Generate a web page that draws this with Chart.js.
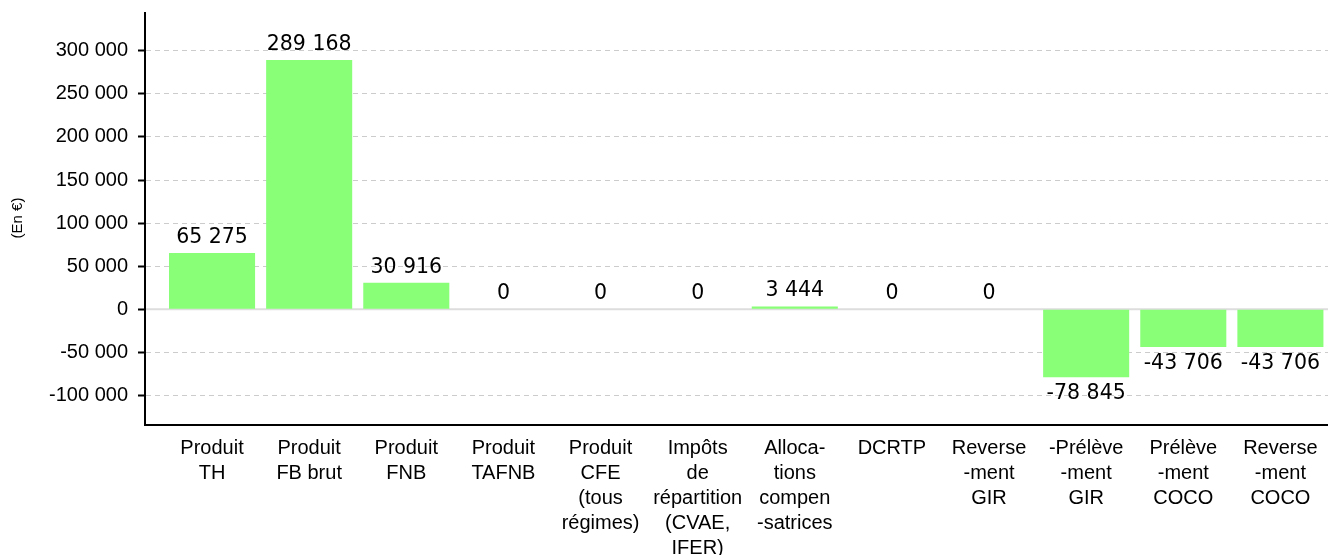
<!DOCTYPE html>
<html>
<head>
<meta charset="utf-8">
<script src="https://cdn.jsdelivr.net/npm/chart.js@4.4.1/dist/chart.umd.min.js"></script>
<style>
  html, body { margin: 0; padding: 0; background: #fff; overflow: hidden; }
  #wrap { width: 1328px; height: 555px; position: relative; }
</style>
</head>
<body>
<div id="wrap"><canvas id="chart"></canvas></div>
<script>
/* ── Données ─────────────────────────────────────────── */
const categories = [
  ['Produit', 'TH'],
  ['Produit', 'FB brut'],
  ['Produit', 'FNB'],
  ['Produit', 'TAFNB'],
  ['Produit', 'CFE', '(tous', 'régimes)'],
  ['Impôts', 'de', 'répartition', '(CVAE,', 'IFER)'],
  ['Alloca-', 'tions', 'compen', '-satrices'],
  ['DCRTP'],
  ['Reverse', '-ment', 'GIR'],
  ['-Prélève', '-ment', 'GIR'],
  ['Prélève', '-ment', 'COCO'],
  ['Reverse', '-ment', 'COCO'],
];
const values = [65275, 289168, 30916, 0, 0, 0, 3444, 0, 0, -78845, -43706, -43706];
const yTicks = [-100000, -50000, 0, 50000, 100000, 150000, 200000, 250000, 300000];
const yMin = -133000;
const yMax = 345000;
const yTitle = '(En €)';

const BAR_COLOR = '#88ff77';
const TICK_FONT = '"Liberation Sans", Arial, sans-serif';

function fmtFr(v) {
  const s = String(Math.abs(Math.round(v))).replace(/\B(?=(\d{3})+(?!\d))/g, ' ');
  return (v < 0 ? '-' : '') + s;
}

/* ── Plugin : ligne du zéro (pleine, gris clair) ─────── */
const zeroLine = {
  id: 'zeroLine',
  beforeDatasetsDraw(chart) {
    const { ctx, chartArea: a, scales } = chart;
    const y0 = scales.y.getPixelForValue(0);
    ctx.save();
    ctx.strokeStyle = '#dddddd';
    ctx.lineWidth = 2;
    ctx.beginPath();
    ctx.moveTo(a.left, y0);
    ctx.lineTo(a.right, y0);
    ctx.stroke();
    ctx.restore();
  }
};

/* ── Plugin : valeurs au-dessus / en-dessous des barres ── */
const valueLabels = {
  id: 'valueLabels',
  afterDatasetsDraw(chart) {
    const { ctx } = chart;
    const meta = chart.getDatasetMeta(0);
    ctx.save();
    ctx.font = '20.5px "DejaVu Sans"';
    ctx.fillStyle = '#000';
    ctx.textAlign = 'center';
    meta.data.forEach((bar, i) => {
      const v = values[i];
      if (v < 0) {
        ctx.textBaseline = 'top';
        ctx.fillText(fmtFr(v), bar.x, bar.y + 6);
      } else {
        ctx.textBaseline = 'alphabetic';
        ctx.fillText(fmtFr(v), bar.x, bar.y - 10);
      }
    });
    ctx.restore();
  }
};

/* ── Plugin : axes noirs ─────────────────────────────── */
const axisLines = {
  id: 'axisLines',
  afterDraw(chart) {
    const { ctx, chartArea: a } = chart;
    ctx.save();
    ctx.strokeStyle = '#000';
    ctx.lineWidth = 2;
    ctx.beginPath();
    ctx.moveTo(a.left - 1, a.top);
    ctx.lineTo(a.left - 1, a.bottom + 1);
    ctx.lineTo(a.right, a.bottom + 1);
    ctx.stroke();
    ctx.restore();
  }
};

new Chart(document.getElementById('chart'), {
  type: 'bar',
  data: {
    datasets: [{
      data: values.map((v, i) => ({ x: i, y: v })),
      backgroundColor: BAR_COLOR,
      borderWidth: 0,
      categoryPercentage: 1,
      barPercentage: 0.886,
    }]
  },
  options: {
    responsive: true,
    maintainAspectRatio: false,
    animation: false,
    layout: { padding: { top: 12, right: 0, left: 0, bottom: 0 } },
    plugins: { legend: { display: false }, tooltip: { enabled: false } },
    scales: {
      x: {
        type: 'linear',
        offset: false,
        min: -0.68,
        max: 11.49,
        afterBuildTicks: s => {
          s.ticks = categories.map((c, i) => ({ value: i }));
        },
        afterFit: s => {
          s.height = 131;
          s.paddingLeft = 0; s.paddingRight = 0;
        },
        grid: { display: false, drawTicks: false },
        border: { display: false },
        ticks: {
          autoSkip: false,
          maxRotation: 0,
          padding: 12,
          color: '#000',
          font: { family: TICK_FONT, size: 20, lineHeight: 1.25 },
          callback: v => categories[v],
        },
      },
      y: {
        type: 'linear',
        min: yMin,
        max: yMax,
        afterBuildTicks: s => {
          s.ticks = yTicks.map(v => ({ value: v }));
        },
        afterFit: s => {
          s.width = 146;
          s.paddingTop = 0; s.paddingBottom = 0;
        },
        border: { display: false, dash: [5, 4] },
        grid: {
          color: '#cccccc',
          lineWidth: 1,
          tickColor: '#000',
          tickLength: 8,
          tickWidth: 2,
          tickBorderDash: [0, 0],
        },
        ticks: {
          autoSkip: false,
          padding: 10,
          color: '#000',
          font: { family: TICK_FONT, size: 20 },
          callback: v => fmtFr(v),
        },
        title: {
          display: true,
          text: yTitle,
          color: '#000',
          font: { family: TICK_FONT, size: 15 },
          padding: { top: 9, bottom: 0 },
        },
      },
    },
  },
  plugins: [zeroLine, valueLabels, axisLines],
});
</script>
</body>
</html>
